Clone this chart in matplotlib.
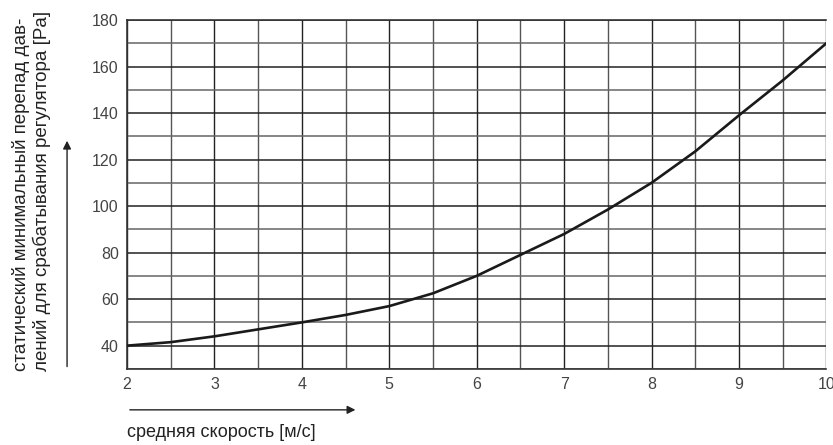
import matplotlib
matplotlib.use("Agg")
import matplotlib.pyplot as plt

plt.rcParams['font.family'] = ['Liberation Sans', 'DejaVu Sans']

# average velocity [m/s] and static min pressure difference [Pa]
speed = [2, 2.5, 3, 3.5, 4, 4.5, 5, 5.5, 6, 6.5, 7, 7.5, 8, 8.5, 9, 9.5, 10]
pressure = [40, 41.5, 44, 47, 50, 53.2, 57, 62.5, 70, 79, 88, 98.5, 110, 123.5, 139, 154, 170]

x_ticks = [2, 3, 4, 5, 6, 7, 8, 9, 10]
y_ticks = [40, 60, 80, 100, 120, 140, 160, 180]

fig = plt.figure(figsize=(8.33, 4.45), dpi=100)
ax = fig.add_axes([0.1525, 0.171, 0.8395, 0.784])

# grid: every 0.5 m/s and every 10 Pa
for i in range(17):
    xv = 2 + i * 0.5
    ax.axvline(xv, color='#222222' if i % 2 == 0 else '#555555', lw=1.0, zorder=1)
for j in range(16):
    yv = 30 + j * 10
    ax.axhline(yv, color='#222222' if j % 2 == 1 else '#666666', lw=1.1, zorder=1)

ax.plot(speed, pressure, color='#1a1a1a', lw=1.9, zorder=3)

ax.set_xlim(2, 10)
ax.set_ylim(30, 180)
ax.set_xticks(x_ticks)
ax.set_yticks(y_ticks)
ax.tick_params(length=0, labelsize=11.5, colors='#444444', pad=6)
for s in ax.spines.values():
    s.set_color('#333333')
    s.set_linewidth(1.2)
ax.spines['right'].set_visible(False)

# y label (two lines) and arrow
fig.text(0.0375, 0.166, 'статический минимальный перепад дав-\nлений для срабатывания регулятора [Pa]',
         rotation=90, ha='center', va='bottom', multialignment='left',
         fontsize=13.5, linespacing=1.2, color='#222222')
fig.add_artist(matplotlib.patches.FancyArrowPatch(
    (0.0805, 0.17), (0.0805, 0.69), transform=fig.transFigure,
    arrowstyle='-|>', mutation_scale=12, lw=1.0, color='#222222'))

# x label and arrow
fig.add_artist(matplotlib.patches.FancyArrowPatch(
    (0.1525, 0.079), (0.43, 0.079), transform=fig.transFigure,
    arrowstyle='-|>', mutation_scale=12, lw=1.0, color='#222222'))
fig.text(0.1525, 0.008, 'средняя скорость [м/с]', ha='left', va='bottom',
         fontsize=13, color='#222222')

fig.savefig('out.png', dpi=100)
